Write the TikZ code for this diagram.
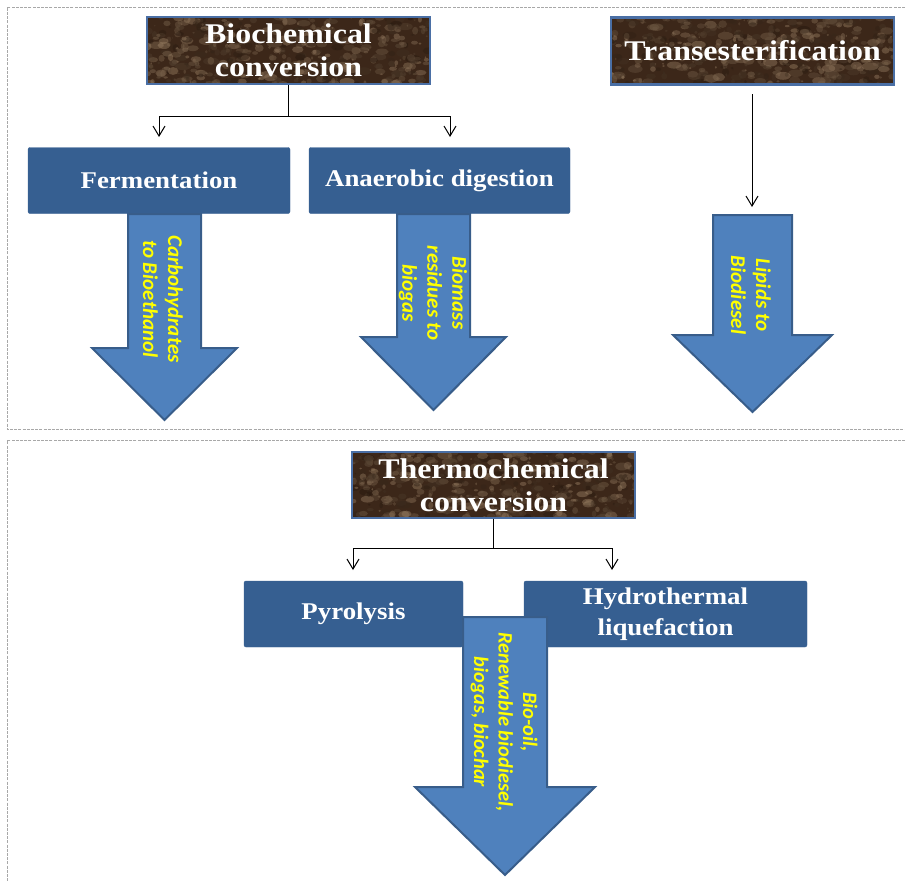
\documentclass[tikz,border=0pt]{standalone}
\usepackage{fontspec}
\usetikzlibrary{arrows.meta,calc}
\newfontfamily\hdrfont[FakeStretch=1.12]{Liberation Serif}
\newfontfamily\capfont{Carlito}
\definecolor{boxblue}{HTML}{365F91}
\definecolor{arrfill}{HTML}{4F81BD}
\definecolor{arrline}{HTML}{385D8A}
\definecolor{hdrline}{HTML}{4A6FA5}
\definecolor{brD}{HTML}{3C2719}
\definecolor{brK}{HTML}{24160C}
\definecolor{brL}{HTML}{9C8266}
\definecolor{framegray}{HTML}{A8A8A8}
\definecolor{capyellow}{HTML}{FFFF00}
\tikzset{
  frameline/.style={draw=framegray,line width=0.8pt,dash pattern=on 3pt off 1.2pt},
  hdrbox/.style={draw=hdrline,line width=2.5pt,inner sep=0pt,text=white,align=center,
    font=\hdrfont\bfseries\fontsize{28.5}{33}\selectfont,minimum width=283pt,minimum height=67pt},
  procbox/.style={fill=boxblue,draw=boxblue,rounded corners=2pt,inner sep=0pt,text=white,align=center,
    font=\hdrfont\bfseries\fontsize{24}{31}\selectfont,minimum height=66pt},
  bigarrow/.style={fill=arrfill,draw=arrline,line width=2pt,line join=miter},
  arrlabel/.style={rotate=-90,text=capyellow,align=center,inner sep=0pt,
    font=\capfont\bfseries\itshape\fontsize{21}{25}\selectfont},
  conn/.style={draw=black,line width=1pt,-{Straight Barb[length=10pt,width=12pt,line width=1pt]}},
  plainconn/.style={draw=black,line width=1pt}
}
\newcommand\mytexture[4]{%
  \begin{scope}
    \clip (#1,#2) rectangle (#3,#4);
    \fill[brD] (#1,#2) rectangle (#3,#4);
    \foreach \i in {1,...,520}{%
      \pgfmathsetmacro\px{#1+rnd*(#3-#1)}%
      \pgfmathsetmacro\py{#2+rnd*(#4-#2)}%
      \pgfmathsetmacro\rr{0.8+3.2*rnd}%
      \pgfmathsetmacro\rx{(0.6+1.6*rnd)*\rr}%
      \pgfmathsetmacro\cc{int(100*rnd)}%
      \fill[brL!\cc!brK,opacity=0.45] (\px,\py) ellipse ({\rx pt} and {\rr pt});
    }
  \end{scope}}
\begin{document}
\begin{tikzpicture}[x=1pt,y=-1pt]
\useasboundingbox (0,0) rectangle (905,881);
\pgfmathsetseed{4242}
% frames
\draw[frameline] (905,7) -- (7,7) -- (7,429) -- (905,429);
\draw[frameline] (905,440.5) -- (7,440.5) -- (7,881);
% header textures
\mytexture{147}{17}{430}{84}
\mytexture{611}{17}{894}{85}
\mytexture{352}{452}{635}{518}
% headers
\node[hdrbox] (bio) at (288.5,50.5) {Biochemical\\conversion};
\node[hdrbox] (trans) at (752.5,51) {Transesterification};
\node[hdrbox,minimum height=66pt] (thermo) at (493.5,485) {Thermochemical\\conversion};
% process boxes
\node[procbox,minimum width=262pt] (ferm) at (159,180.5) {Fermentation};
\node[procbox,minimum width=261pt] (anaer) at (439.5,180.5) {Anaerobic digestion};
\node[procbox,minimum width=219pt] (pyro) at (353.5,614) {Pyrolysis};
\node[procbox,minimum width=283pt] (hydro) at (665.5,614) {Hydrothermal\\liquefaction};
% connector coordinates
\coordinate (bj) at (288.5,116);
\coordinate (fa) at (159,137);
\coordinate (fb) at (450,137);
\coordinate (ts) at (752,94);
\coordinate (te) at (752,207);
\coordinate (tj) at (493.5,548);
\coordinate (pa) at (353,570);
\coordinate (pb) at (612,570);
% connectors
\draw[plainconn] (bio.south) -- (bj);
\draw[conn] (bj) -| (fa);
\draw[conn] (bj) -| (fb);
\draw[conn] (ts) -- (te);
\draw[plainconn] (thermo.south) -- (tj);
\draw[conn] (tj) -| (pa);
\draw[conn] (tj) -| (pb);
% big arrows
\draw[bigarrow] (128,214) -- (201,214) -- (201,348) -- (237,348) -- (164.5,420) -- (92,348) -- (128,348) -- cycle;
\draw[bigarrow] (397,214) -- (470,214) -- (470,337) -- (506,337) -- (433.5,410) -- (361,337) -- (397,337) -- cycle;
\draw[bigarrow] (713,215) -- (792,215) -- (792,335) -- (832,335) -- (752.5,412) -- (673,335) -- (713,335) -- cycle;
\draw[bigarrow] (463,617) -- (547,617) -- (547,787) -- (595,787) -- (505,875) -- (415,787) -- (463,787) -- cycle;
% arrow labels
\node[arrlabel] (l1) at (163,299) {Carbohydrates\\to Bioethanol};
\node[arrlabel] (l2) at (433,293) {Biomass\\residues to\\biogas};
\node[arrlabel] (l3) at (751,295) {Lipids to\\Biodiesel};
\node[arrlabel,font=\capfont\bfseries\itshape\fontsize{20.5}{24.5}\selectfont] (l4) at (504,722) {Bio-oil,\\Renewable biodiesel,\\biogas, biochar};
\end{tikzpicture}
\end{document}
